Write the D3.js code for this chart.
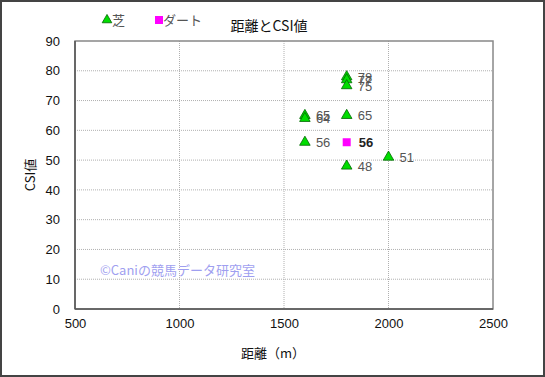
<!DOCTYPE html>
<html>
<head>
<meta charset="utf-8">
<script src="https://cdn.jsdelivr.net/npm/d3@7"></script>
<style>
  body { margin: 0; background: #fff; }
  svg { display: block; font-family: "Noto Sans CJK JP", "Liberation Sans", sans-serif; }
</style>
</head>
<body>
<svg id="chart" width="545" height="377"></svg>
<script>
// turf (芝) points
var turfDist = [1600, 1600, 1600, 1800, 1800, 1800, 1800, 1800, 2000];
var turfCsi  = [65, 64, 56, 78, 77, 75, 65, 48, 51];
// dirt (ダート) points
var dirtDist = [1800];
var dirtCsi  = [56];

var xTicks = [500, 1000, 1500, 2000, 2500];
var yTicks = [0, 10, 20, 30, 40, 50, 60, 70, 80, 90];

var svg = d3.select("#chart");
var W = 545, H = 377;
var m = {left: 75, right: 493, top: 41, bottom: 309};

var x = d3.scaleLinear().domain([500, 2500]).range([m.left, m.right]);
var y = d3.scaleLinear().domain([0, 90]).range([m.bottom, m.top]);

// outer frame
svg.append("rect").attr("x", 1).attr("y", 1).attr("width", W - 2).attr("height", H - 2)
  .attr("fill", "#fff").attr("stroke", "#444").attr("stroke-width", 2);

// grid
var grid = svg.append("g");
grid.selectAll("line.h").data(yTicks.slice(1, -1)).enter().append("line")
  .attr("x1", m.left).attr("x2", m.right)
  .attr("y1", function(d) { return y(d); }).attr("y2", function(d) { return y(d); })
  .attr("stroke", "#b0b0b0").attr("stroke-dasharray", "1,1");
grid.selectAll("line.v").data(xTicks.slice(1, -1)).enter().append("line")
  .attr("y1", m.top).attr("y2", m.bottom)
  .attr("x1", function(d) { return x(d); }).attr("x2", function(d) { return x(d); })
  .attr("stroke", "#b0b0b0").attr("stroke-dasharray", "1,1");

// plot border
svg.append("rect").attr("x", m.left).attr("y", m.top)
  .attr("width", m.right - m.left).attr("height", m.bottom - m.top)
  .attr("fill", "none").attr("stroke", "#888").attr("stroke-width", 1.5);
svg.append("line").attr("x1", m.left).attr("x2", m.right).attr("y1", m.bottom).attr("y2", m.bottom)
  .attr("stroke", "#555").attr("stroke-width", 1.5);
svg.append("line").attr("x1", m.left).attr("x2", m.left).attr("y1", m.top).attr("y2", m.bottom)
  .attr("stroke", "#555").attr("stroke-width", 1.5);

// axes
var xAxis = svg.append("g").attr("transform", "translate(0," + m.bottom + ")")
  .call(d3.axisBottom(x).tickValues(xTicks).tickSize(0).tickPadding(10).tickFormat(d3.format("d")));
var yAxis = svg.append("g").attr("transform", "translate(" + m.left + ",0)")
  .call(d3.axisLeft(y).tickValues(yTicks).tickSize(0).tickPadding(15));
[xAxis, yAxis].forEach(function(a) {
  a.select(".domain").remove();
  a.selectAll("text").attr("font-size", 13).attr("fill", "#111")
    .attr("font-family", "Liberation Sans, sans-serif");
});

// watermark
svg.append("text").attr("x", 100).attr("y", 275)
  .attr("font-size", 13).attr("fill", "#9f9ff0")
  .text("©Caniの競馬データ研究室");

// turf markers
var tri = d3.symbol().type(d3.symbolTriangle).size(48);
var turf = turfDist.map(function(d, i) { return {d: d, v: turfCsi[i]}; });
svg.append("g").selectAll("path").data(turf).enter().append("path")
  .attr("d", tri)
  .attr("transform", function(p) { return "translate(" + x(p.d) + "," + y(p.v) + ")"; })
  .attr("fill", "#00dd00").attr("stroke", "#006600").attr("stroke-width", 0.8);
svg.append("g").selectAll("text").data(turf).enter().append("text")
  .attr("x", function(p) { return x(p.d) + 11; })
  .attr("y", function(p) { return y(p.v) + 5; })
  .attr("font-size", 13).attr("fill", "#555")
  .attr("font-family", "Liberation Sans, sans-serif")
  .text(function(p) { return p.v; });

// dirt markers
var dirt = dirtDist.map(function(d, i) { return {d: d, v: dirtCsi[i]}; });
svg.append("g").selectAll("rect").data(dirt).enter().append("rect")
  .attr("x", function(p) { return x(p.d) - 4; })
  .attr("y", function(p) { return y(p.v) - 4; })
  .attr("width", 8).attr("height", 8).attr("fill", "#ff00ff");
svg.append("g").selectAll("text").data(dirt).enter().append("text")
  .attr("x", function(p) { return x(p.d) + 12; })
  .attr("y", function(p) { return y(p.v) + 5; })
  .attr("font-size", 13).attr("font-weight", "bold").attr("fill", "#222")
  .attr("font-family", "Liberation Sans, sans-serif")
  .text(function(p) { return p.v; });

// legend
svg.append("path").attr("d", d3.symbol().type(d3.symbolTriangle).size(40))
  .attr("transform", "translate(107,20)").attr("fill", "#00dd00").attr("stroke", "#006600").attr("stroke-width", 0.8);
svg.append("text").attr("x", 112).attr("y", 25).attr("font-size", 13).attr("fill", "#555").text("芝");
svg.append("rect").attr("x", 155).attr("y", 16).attr("width", 8).attr("height", 8).attr("fill", "#ff00ff");
svg.append("text").attr("x", 163).attr("y", 25).attr("font-size", 13).attr("fill", "#555").text("ダート");

// title and axis labels
svg.append("text").attr("x", 269).attr("y", 31).attr("text-anchor", "middle")
  .attr("font-size", 14).attr("fill", "#111").text("距離とCSI値");
svg.append("text").attr("x", 273).attr("y", 358).attr("text-anchor", "middle")
  .attr("font-size", 13).attr("fill", "#111").text("距離（m）");
svg.append("text").attr("transform", "translate(35,175) rotate(-90)").attr("text-anchor", "middle")
  .attr("font-size", 13).attr("fill", "#111").text("CSI値");
</script>
</body>
</html>
